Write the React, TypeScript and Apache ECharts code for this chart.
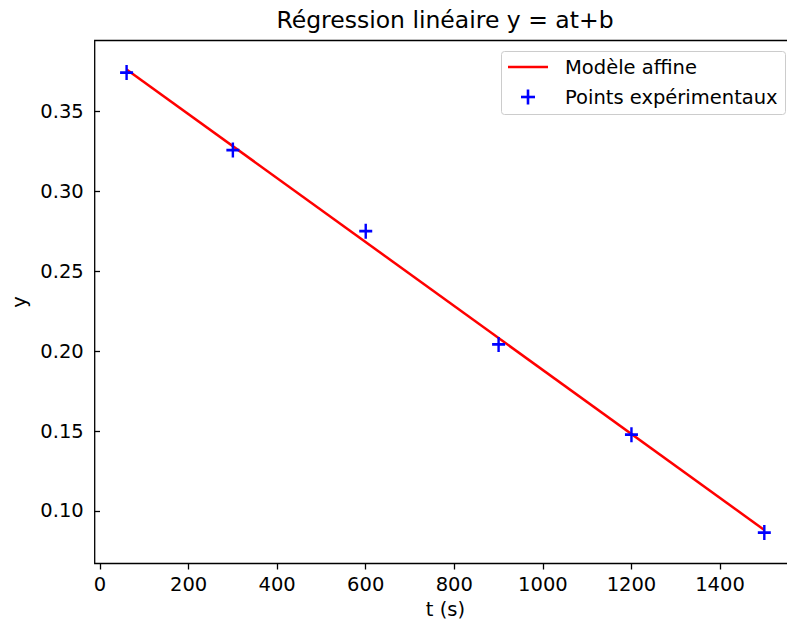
import React, { useEffect, useRef } from "react";
import * as echarts from "echarts";

const pointsT = [60, 300, 600, 900, 1200, 1500];
const pointsY = [0.3745, 0.326, 0.2752, 0.2043, 0.1478, 0.0865];
const fitT = [60, 1500];
const fitY = [0.3765, 0.0881];
const xTicks = [0, 200, 400, 600, 800, 1000, 1200, 1400];
const yTicks = [0.1, 0.15, 0.2, 0.25, 0.3, 0.35];

const FONT = "DejaVu Sans";
const FS = 19.5;

export default function App() {
  const ref = useRef<HTMLDivElement>(null);
  useEffect(() => {
    if (!ref.current) return;
    const chart = echarts.init(ref.current, undefined, { renderer: "svg" });
    const plus = "path://M5.7,0H8.3V5.7H14V8.3H8.3V14H5.7V8.3H0V5.7H5.7Z";
    chart.setOption({
      animation: false,
      backgroundColor: "#ffffff",
      textStyle: { fontFamily: FONT },
      grid: {
        left: 94.7,
        top: 40.5,
        width: 701.5,
        height: 523,
        outerBoundsMode: "none",
        containLabel: false,
        show: true,
        borderColor: "#000",
        borderWidth: 1.3,
        backgroundColor: "transparent",
      },
      xAxis: {
        type: "value",
        min: -12,
        max: 1572,
        name: "t (s)",
        nameLocation: "middle",
        nameGap: 36,
        nameTextStyle: { fontSize: FS, color: "#000", fontFamily: FONT },
        axisLine: { show: false },
        splitLine: { show: false },
        axisTick: { show: true, length: 6, customValues: xTicks, lineStyle: { color: "#000", width: 1.3 } },
        axisLabel: {
          customValues: xTicks,
          margin: 11,
          fontSize: FS,
          color: "#000",
          fontFamily: FONT,
          formatter: (v: number) => String(v),
        },
      },
      yAxis: {
        type: "value",
        min: 0.0671,
        max: 0.3946,
        name: "y",
        nameLocation: "middle",
        nameGap: 64,
        nameTextStyle: { fontSize: FS, color: "#000", fontFamily: FONT },
        axisLine: { show: false },
        splitLine: { show: false },
        axisTick: { show: true, length: 6, customValues: yTicks, lineStyle: { color: "#000", width: 1.3 } },
        axisLabel: {
          customValues: yTicks,
          margin: 11,
          fontSize: FS,
          color: "#000",
          fontFamily: FONT,
          formatter: (v: number) => v.toFixed(2),
        },
      },
      series: [
        {
          name: "Modèle affine",
          type: "line",
          data: fitT.map((t, i) => [t, fitY[i]]),
          showSymbol: false,
          lineStyle: { color: "#ff0000", width: 2.5 },
          itemStyle: { color: "#ff0000" },
          z: 2,
        },
        {
          name: "Points expérimentaux",
          type: "scatter",
          data: pointsT.map((t, i) => [t, pointsY[i]]),
          symbol: plus,
          symbolSize: [13, 15],
          itemStyle: { color: "#0000ff", opacity: 1 },
          z: 3,
        },
      ],
      graphic: [
        {
          type: "text",
          x: 445,
          y: 20,
          z: 100,
          style: {
            text: "Régression linéaire y = at+b",
            fontSize: 23.5,
            fontFamily: FONT,
            fill: "#000",
            textAlign: "center",
            textVerticalAlign: "middle",
          },
        },
        {
          type: "rect",
          z: 100,
          shape: { x: 501.5, y: 51.5, width: 284, height: 63, r: 3 },
          style: { fill: "rgba(255,255,255,0.8)", stroke: "#cccccc", lineWidth: 1 },
        },
        {
          type: "line",
          z: 101,
          shape: { x1: 508, y1: 67, x2: 548, y2: 67 },
          style: { stroke: "#ff0000", lineWidth: 2.5 },
        },
        {
          type: "text",
          x: 565,
          y: 67,
          z: 101,
          style: {
            text: "Modèle affine",
            fontSize: FS,
            fontFamily: FONT,
            fill: "#000",
            textVerticalAlign: "middle",
          },
        },
        {
          type: "line",
          z: 101,
          shape: { x1: 521, y1: 97, x2: 535, y2: 97 },
          style: { stroke: "#0000ff", lineWidth: 2.6 },
        },
        {
          type: "line",
          z: 101,
          shape: { x1: 528, y1: 89.5, x2: 528, y2: 104.5 },
          style: { stroke: "#0000ff", lineWidth: 2.6 },
        },
        {
          type: "text",
          x: 565,
          y: 97,
          z: 101,
          style: {
            text: "Points expérimentaux",
            fontSize: FS,
            fontFamily: FONT,
            fill: "#000",
            textVerticalAlign: "middle",
          },
        },
      ],
    });
    return () => chart.dispose();
  }, []);
  return (
    <div
      ref={ref}
      style={{ position: "fixed", left: 0, top: 0, width: 787, height: 626, background: "#fff" }}
    />
  );
}
